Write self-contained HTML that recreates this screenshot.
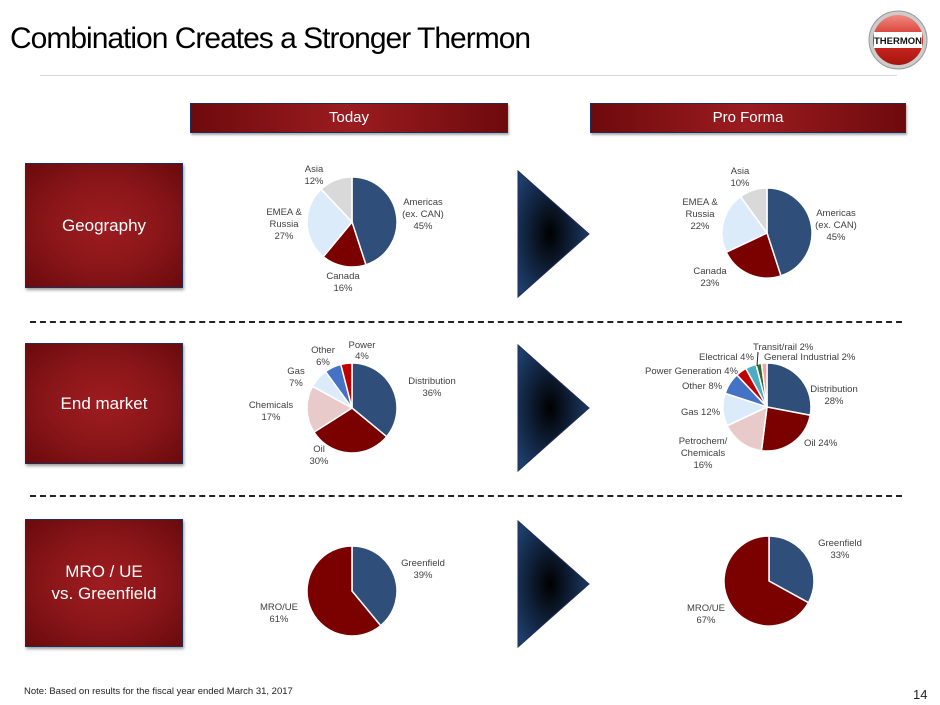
<!DOCTYPE html>
<html><head><meta charset="utf-8"><style>
body{margin:0;width:940px;height:705px;background:#fff;position:relative;overflow:hidden;font-family:"Liberation Sans",sans-serif}
.t{position:absolute;left:10px;top:22px;font-size:30px;color:#000;letter-spacing:-1px;transform:scaleX(1.0);transform-origin:left}
.hr{position:absolute;left:40px;top:75px;width:857px;height:1px;background:#d9d9d9}
.hb{position:absolute;top:103px;height:28px;background:linear-gradient(90deg,#6e0a0c,#9b1c20 50%,#6e0a0c);border:1px solid #1f2d5a;color:#fff;font-size:15px;text-align:center;line-height:28px;box-shadow:1px 2px 2px #aaa}
.lb{position:absolute;left:25px;width:156px;background:radial-gradient(ellipse at center,#9e1c20 0%,#8a1619 50%,#6a0a0c 100%);border:1px solid #1f2d5a;color:#fff;font-size:17px;display:flex;align-items:center;justify-content:center;text-align:center;line-height:22px;box-shadow:1px 2px 3px #999}
.dash{position:absolute;left:30px;width:872px;border-top:2px dashed #222}
svg{position:absolute;left:0;top:0}
svg text{font-family:"Liberation Sans",sans-serif;font-size:9.5px;fill:#404040}
</style></head><body>
<div class="t">Combination Creates a Stronger Thermon</div>
<div class="hr"></div>
<div class="hb" style="left:190px;width:316px">Today</div>
<div class="hb" style="left:590px;width:314px">Pro Forma</div>
<div class="lb" style="top:163px;height:123px">Geography</div>
<div class="lb" style="top:343px;height:119px">End market</div>
<div class="lb" style="top:519px;height:126px">MRO / UE<br>vs. Greenfield</div>
<div class="dash" style="top:321px"></div>
<div class="dash" style="top:495px"></div>
<div style="position:absolute;left:24px;top:686px;font-size:9.5px;color:#222">Note: Based on results for the fiscal year ended March 31, 2017</div>
<div style="position:absolute;left:913px;top:687px;font-size:13px;color:#222">14</div>
<svg id="s" width="940" height="705">
<defs><radialGradient id="tg" cx="0.45" cy="0.5" r="0.6"><stop offset="0" stop-color="#000"/><stop offset="1" stop-color="#1e3f6e"/></radialGradient>
<linearGradient id="lg" x1="0" y1="0" x2="0" y2="1"><stop offset="0" stop-color="#f08a80"/><stop offset="0.5" stop-color="#d32a22"/><stop offset="1" stop-color="#a51510"/></linearGradient></defs>
<circle cx="898" cy="40" r="29" fill="#ccc" stroke="#999"/>
<circle cx="898" cy="40" r="25" fill="url(#lg)"/>
<rect x="874" y="32" width="48" height="16" fill="#fff"/>
<text x="898" y="44" text-anchor="middle" style="font-size:9.5px;font-weight:bold;fill:#111">THERMON</text>
<polygon points="518,171 589,234 518,297" fill="url(#tg)" stroke="#1f2d5a"/>
<polygon points="518,345 589,408 518,471" fill="url(#tg)" stroke="#1f2d5a"/>
<polygon points="518,521 589,584 518,647" fill="url(#tg)" stroke="#1f2d5a"/>
<g id="pies"></g>
<text x="314" y="172" text-anchor="middle">Asia</text><text x="314" y="184" text-anchor="middle">12%</text>
<text x="423" y="205" text-anchor="middle">Americas</text><text x="423" y="217" text-anchor="middle">(ex. CAN)</text><text x="423" y="229" text-anchor="middle">45%</text>
<text x="284" y="215" text-anchor="middle">EMEA &amp;</text><text x="284" y="227" text-anchor="middle">Russia</text><text x="284" y="239" text-anchor="middle">27%</text>
<text x="343" y="279" text-anchor="middle">Canada</text><text x="343" y="291" text-anchor="middle">16%</text>
<text x="740" y="174" text-anchor="middle">Asia</text><text x="740" y="186" text-anchor="middle">10%</text>
<text x="836" y="216" text-anchor="middle">Americas</text><text x="836" y="228" text-anchor="middle">(ex. CAN)</text><text x="836" y="240" text-anchor="middle">45%</text>
<text x="700" y="205" text-anchor="middle">EMEA &amp;</text><text x="700" y="217" text-anchor="middle">Russia</text><text x="700" y="229" text-anchor="middle">22%</text>
<text x="710" y="274" text-anchor="middle">Canada</text><text x="710" y="286" text-anchor="middle">23%</text>
<text x="362" y="348" text-anchor="middle">Power</text><text x="362" y="359" text-anchor="middle">4%</text>
<text x="323" y="353" text-anchor="middle">Other</text><text x="323" y="365" text-anchor="middle">6%</text>
<text x="296" y="374" text-anchor="middle">Gas</text><text x="296" y="386" text-anchor="middle">7%</text>
<text x="271" y="408" text-anchor="middle">Chemicals</text><text x="271" y="420" text-anchor="middle">17%</text>
<text x="432" y="384" text-anchor="middle">Distribution</text><text x="432" y="396" text-anchor="middle">36%</text>
<text x="319" y="452" text-anchor="middle">Oil</text><text x="319" y="464" text-anchor="middle">30%</text>
<text x="753" y="350" text-anchor="start">Transit/rail 2%</text>
<text x="764" y="360" text-anchor="start">General Industrial 2%</text>
<line x1="758" y1="352" x2="757" y2="366" stroke="#222" stroke-width="1"/>
<text x="699" y="360" text-anchor="start">Electrical 4%</text>
<text x="645" y="374" text-anchor="start">Power Generation 4%</text>
<text x="682" y="389" text-anchor="start">Other 8%</text>
<text x="681" y="415" text-anchor="start">Gas 12%</text>
<text x="703" y="444" text-anchor="middle">Petrochem/</text><text x="703" y="456" text-anchor="middle">Chemicals</text><text x="703" y="468" text-anchor="middle">16%</text>
<text x="834" y="392" text-anchor="middle">Distribution</text><text x="834" y="404" text-anchor="middle">28%</text>
<text x="804" y="446" text-anchor="start">Oil  24%</text>
<text x="423" y="566" text-anchor="middle">Greenfield</text><text x="423" y="578" text-anchor="middle">39%</text>
<text x="279" y="610" text-anchor="middle">MRO/UE</text><text x="279" y="622" text-anchor="middle">61%</text>
<text x="840" y="546" text-anchor="middle">Greenfield</text><text x="840" y="558" text-anchor="middle">33%</text>
<text x="706" y="611" text-anchor="middle">MRO/UE</text><text x="706" y="623" text-anchor="middle">67%</text>
</svg>
<script>
var B='#2f4f7a',R='#7b0000',LB='#dcebfa',G='#d9d9d9',P='#e8caca',M='#4472c4',RR='#c00000',T='#4bacc6',GR='#2e6b30',PK='#f4a3a3';
var pies=[[352,222,45,[[45,B],[16,R],[27,LB],[12,G]]],[767,233,45,[[45,B],[23,R],[22,LB],[10,G]]],
[352,408,45,[[36,B],[30,R],[17,P],[7,LB],[6,M],[4,RR]]],
[767,407,44,[[28,B],[24,R],[16,P],[12,LB],[8,M],[4,RR],[4,T],[2,GR],[2,PK]]],
[352,591,45,[[39,B],[61,R]]],[769,581,45,[[33,B],[67,R]]]];
var h='';
pies.forEach(function(p){var cx=p[0],cy=p[1],r=p[2],tot=0,a0=0;p[3].forEach(function(s){tot+=s[0]});
p[3].forEach(function(s){var a1=a0+s[0]/tot*2*Math.PI;
var x0=cx+r*Math.sin(a0),y0=cy-r*Math.cos(a0),x1=cx+r*Math.sin(a1),y1=cy-r*Math.cos(a1);
h+='<path d="M'+cx+','+cy+'L'+x0.toFixed(2)+','+y0.toFixed(2)+'A'+r+','+r+' 0 '+((a1-a0)>Math.PI?1:0)+' 1 '+x1.toFixed(2)+','+y1.toFixed(2)+'Z" fill="'+s[1]+'" stroke="#fff" stroke-width="1.5"/>';a0=a1;});});
document.getElementById('pies').innerHTML=h;
</script>
</body></html>
